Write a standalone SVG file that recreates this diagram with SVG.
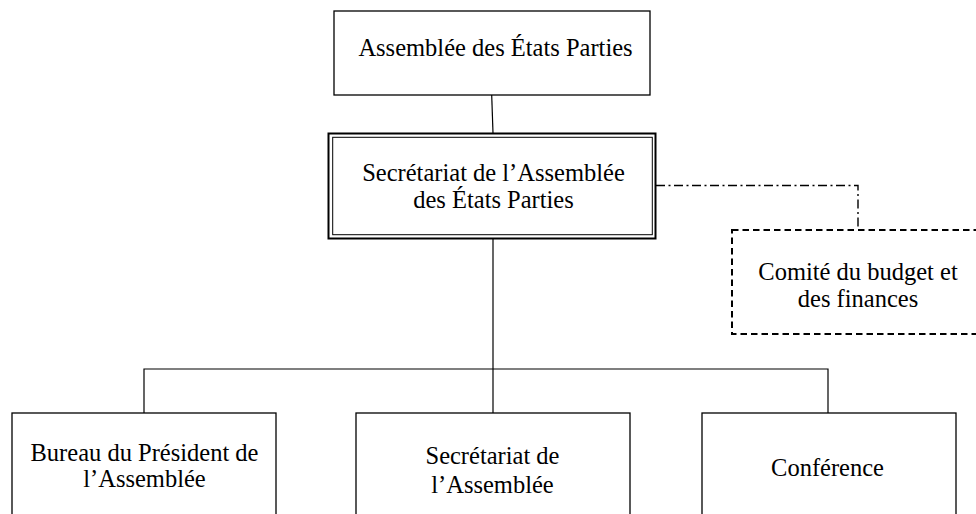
<svg xmlns="http://www.w3.org/2000/svg" width="976" height="514" viewBox="0 0 976 514">
<style>
.box{fill:#fff;stroke:#000;stroke-width:1.3}
.t{font-family:"Liberation Serif","Times New Roman",serif;font-size:24.5px;fill:#000;text-anchor:middle}
.ln{fill:none;stroke:#000;stroke-width:1.2}
.dd{fill:none;stroke:#000;stroke-width:1.4;stroke-dasharray:9 3.5 2 3.5}
</style>
<rect width="976" height="514" fill="#fff"/>
<g id="connectors">
<line class="ln" x1="491.7" y1="95" x2="493" y2="133"/>
<line class="ln" x1="493" y1="238" x2="493" y2="369"/>
<polyline class="ln" points="144,413 144,369 828,369 828,413"/>
<line class="ln" x1="493" y1="369" x2="493" y2="413"/>
<polyline class="dd" points="656,185.5 858,185.5 858,230"/>
</g>
<g id="assemblee">
<rect class="box" x="334" y="11" width="316" height="84"/>
<text class="t" x="495.5" y="56">Assemblée des États Parties</text>
</g>
<g id="secretariat-aep">
<rect x="328.5" y="133.5" width="327" height="105" fill="#fff" stroke="#000" stroke-width="2"/>
<rect x="332.7" y="137.3" width="319.6" height="97.4" fill="none" stroke="#000" stroke-width="1"/>
<text class="t" x="493.5" y="181">Secrétariat de l’Assemblée</text>
<text class="t" x="493.5" y="208">des États Parties</text>
</g>
<g id="comite">
<rect x="732" y="230" width="260" height="104" fill="#fff" stroke="#000" stroke-width="2" stroke-dasharray="6.5 4"/>
<text class="t" x="858" y="280">Comité du budget et</text>
<text class="t" x="858" y="307">des finances</text>
</g>
<g id="bureau">
<rect class="box" x="12" y="413" width="264" height="120"/>
<text class="t" x="144.5" y="461">Bureau du Président de</text>
<text class="t" x="144.5" y="487">l’Assemblée</text>
</g>
<g id="secretariat">
<rect class="box" x="356" y="413" width="274" height="120"/>
<text class="t" x="492.5" y="464">Secrétariat de</text>
<text class="t" x="492.5" y="493">l’Assemblée</text>
</g>
<g id="conference">
<rect class="box" x="702" y="413" width="254" height="120"/>
<text class="t" x="827.5" y="476">Conférence</text>
</g>
</svg>
